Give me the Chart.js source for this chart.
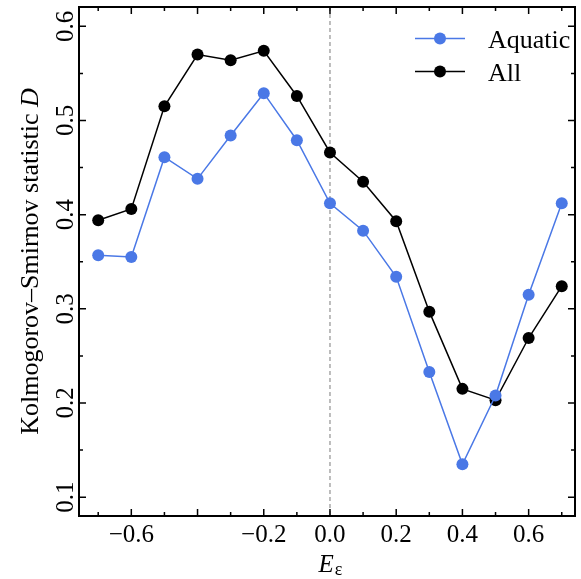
<!DOCTYPE html>
<html>
<head>
<meta charset="utf-8">
<script src="https://cdn.jsdelivr.net/npm/chart.js@4"></script>
<style>
    html, body { margin: 0; padding: 0; background: #fff; }
    #wrap { width: 581px; height: 579px; }
</style>
</head>
<body>
<div id="wrap"><canvas id="chart" width="581" height="579"></canvas></div>
<script>
// energy bins and KS statistic per bin
const energies = [-0.7, -0.6, -0.5, -0.4, -0.3, -0.2, -0.1, 0.0, 0.1, 0.2, 0.3, 0.4, 0.5, 0.6, 0.7];
const aquatic = [0.357, 0.355, 0.461, 0.438, 0.484, 0.529, 0.479, 0.412, 0.383, 0.334, 0.233, 0.135, 0.208, 0.315, 0.412];
const allSpecies = [0.394, 0.406, 0.515, 0.570, 0.564, 0.574, 0.526, 0.466, 0.435, 0.393, 0.297, 0.215, 0.203, 0.269, 0.324];

const xMajor = [-0.6, -0.4, -0.2, 0.0, 0.2, 0.4, 0.6];
const xMinor = [-0.7, -0.5, -0.3, -0.1, 0.1, 0.3, 0.5, 0.7];
const xLabels = [-0.6, -0.2, 0.0, 0.2, 0.4, 0.6];
const yMajor = [0.1, 0.2, 0.3, 0.4, 0.5, 0.6];
const yMinor = [0.15, 0.25, 0.35, 0.45, 0.55];

const seriesNames = ["Aquatic", "All"];
const seriesColors = ["#4a78e6", "#000000"];

const FONT = "'Liberation Serif', 'DejaVu Serif', serif";

function fmt(v) {
    return v.toFixed(1).replace("-", "\u2212");
}

function toPoints(ys) {
    return ys.map(function (y, i) { return { x: energies[i], y: y }; });
}

const zeroLine = {
    id: "zeroLine",
    beforeDatasetsDraw: function (chart) {
        var ctx = chart.ctx, a = chart.chartArea;
        var px = chart.scales.x.getPixelForValue(0);
        ctx.save();
        ctx.strokeStyle = "#9a9a9a";
        ctx.lineWidth = 1.3;
        ctx.setLineDash([4, 3]);
        ctx.beginPath();
        ctx.moveTo(px, a.top);
        ctx.lineTo(px, a.bottom);
        ctx.stroke();
        ctx.restore();
    }
};

const frame = {
    id: "frame",
    afterDraw: function (chart) {
        var ctx = chart.ctx, a = chart.chartArea;
        var xs = chart.scales.x, ys = chart.scales.y;
        ctx.save();
        ctx.strokeStyle = "#000";
        ctx.lineWidth = 2;
        ctx.strokeRect(a.left, a.top, a.right - a.left, a.bottom - a.top);

        ctx.lineWidth = 1.5;
        ctx.beginPath();
        function xTick(v, len) {
            var px = xs.getPixelForValue(v);
            ctx.moveTo(px, a.bottom); ctx.lineTo(px, a.bottom - len);
            ctx.moveTo(px, a.top); ctx.lineTo(px, a.top + len);
        }
        function yTick(v, len) {
            var py = ys.getPixelForValue(v);
            ctx.moveTo(a.left, py); ctx.lineTo(a.left + len, py);
            ctx.moveTo(a.right, py); ctx.lineTo(a.right - len, py);
        }
        xMajor.forEach(function (v) { xTick(v, 7); });
        xMinor.forEach(function (v) { xTick(v, 4); });
        yMajor.forEach(function (v) { yTick(v, 7); });
        yMinor.forEach(function (v) { yTick(v, 4); });
        ctx.stroke();

        // tick labels
        ctx.fillStyle = "#000";
        ctx.font = "25px " + FONT;
        ctx.textAlign = "center";
        ctx.textBaseline = "alphabetic";
        xLabels.forEach(function (v) {
            ctx.fillText(fmt(v), xs.getPixelForValue(v), 542);
        });
        yMajor.forEach(function (v) {
            ctx.save();
            ctx.translate(73, ys.getPixelForValue(v));
            ctx.rotate(-Math.PI / 2);
            ctx.fillText(fmt(v), 0, 0);
            ctx.restore();
        });

        // y title
        var plain = "Kolmogorov\u2013Smirnov statistic ";
        var ital = "D";
        ctx.save();
        ctx.translate(38, (a.top + a.bottom) / 2);
        ctx.rotate(-Math.PI / 2);
        ctx.font = "26px " + FONT;
        var w1 = ctx.measureText(plain).width;
        ctx.font = "italic 26px " + FONT;
        var w2 = ctx.measureText(ital).width;
        ctx.textAlign = "left";
        ctx.font = "26px " + FONT;
        ctx.fillText(plain, -(w1 + w2) / 2, 0);
        ctx.font = "italic 26px " + FONT;
        ctx.fillText(ital, -(w1 + w2) / 2 + w1, 0);
        ctx.restore();

        // x title: E with subscript epsilon
        ctx.textAlign = "left";
        ctx.font = "italic 25px " + FONT;
        var we = ctx.measureText("E").width;
        ctx.font = "18px " + FONT;
        var ws = ctx.measureText("\u03b5").width;
        var cx = xs.getPixelForValue(0);
        var x0 = cx - (we + ws) / 2;
        ctx.font = "italic 25px " + FONT;
        ctx.fillText("E", x0, 572);
        ctx.font = "18px " + FONT;
        ctx.fillText("\u03b5", x0 + we + 1, 575);

        // legend
        var rows = [[38.5, 48], [71.5, 81]];
        ctx.font = "26px " + FONT;
        seriesNames.forEach(function (name, i) {
            var ly = rows[i][0];
            ctx.strokeStyle = seriesColors[i];
            ctx.fillStyle = seriesColors[i];
            ctx.lineWidth = 1.5;
            ctx.beginPath();
            ctx.moveTo(415, ly); ctx.lineTo(465, ly);
            ctx.stroke();
            ctx.beginPath();
            ctx.arc(440, ly, 6, 0, Math.PI * 2);
            ctx.fill();
            ctx.fillStyle = "#000";
            ctx.fillText(name, 488, rows[i][1]);
        });
        ctx.restore();
    }
};

new Chart(document.getElementById("chart"), {
    type: "scatter",
    data: {
        datasets: [
            {
                label: seriesNames[0],
                data: toPoints(aquatic),
                showLine: true,
                borderColor: seriesColors[0],
                backgroundColor: seriesColors[0],
                borderWidth: 1.5,
                pointRadius: 6,
                pointBorderWidth: 0
            },
            {
                label: seriesNames[1],
                data: toPoints(allSpecies),
                showLine: true,
                borderColor: seriesColors[1],
                backgroundColor: seriesColors[1],
                borderWidth: 1.5,
                pointRadius: 6,
                pointBorderWidth: 0
            }
        ]
    },
    options: {
        responsive: false,
        devicePixelRatio: 1,
        animation: false,
        layout: { padding: { left: 79, top: 7, right: 2, bottom: 63 } },
        scales: {
            x: { type: "linear", min: -0.758, max: 0.74, display: false },
            y: { type: "linear", min: 0.08, max: 0.6205, display: false }
        },
        plugins: {
            legend: { display: false },
            tooltip: { enabled: false }
        }
    },
    plugins: [zeroLine, frame]
});
</script>
</body>
</html>
